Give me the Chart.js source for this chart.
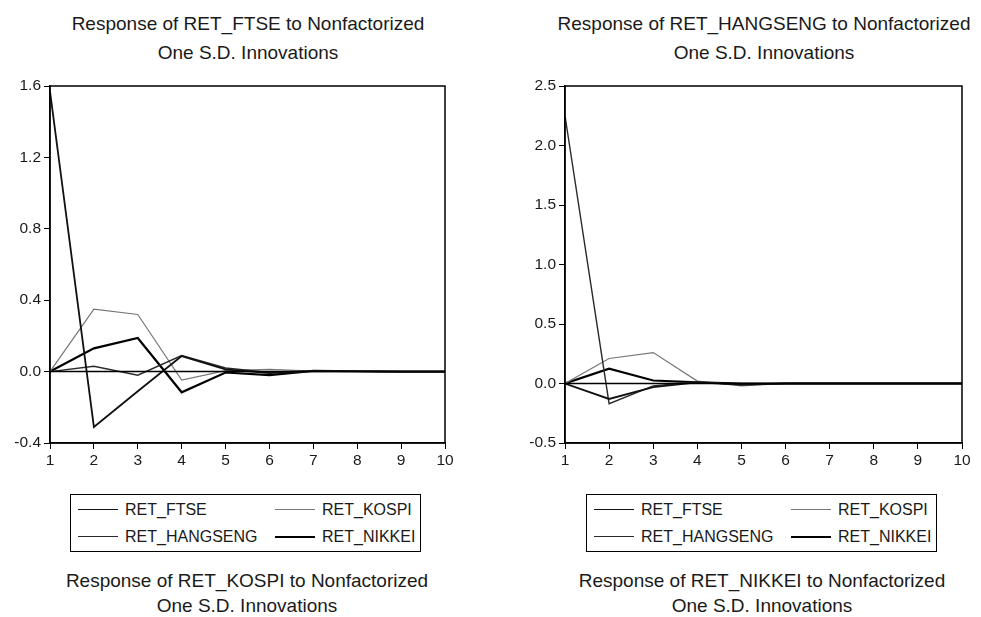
<!DOCTYPE html>
<html>
<head>
<meta charset="utf-8">
<script src="https://cdn.jsdelivr.net/npm/chart.js@4.4.1/dist/chart.umd.min.js"></script>
<style>
  body { margin: 0; background: #fff; width: 981px; height: 617px; overflow: hidden; position: relative; font-family: "Liberation Sans", Arial, sans-serif; color: #1a1a1a; }
  .title { position: absolute; width: 480px; text-align: center; font-size: 19px; white-space: nowrap; }
  .panel { position: absolute; top: 70px; height: 400px; }
  .legend { position: absolute; top: 494px; width: 351px; height: 58px; border: 1.5px solid #000; display: grid; grid-template-columns: 197px auto; align-content: center; padding-left: 7px; box-sizing: border-box; font-size: 16px; }
  .legend .item { display: flex; align-items: center; height: 27px; white-space: nowrap; }
  .legend .swatch { width: 40px; margin-right: 7px; }
</style>
</head>
<body>
<div class="title" style="left:8px; top:9px; line-height:29px;">Response of RET_FTSE to Nonfactorized<br>One S.D. Innovations</div>
<div class="title" style="left:524px; top:9px; line-height:29px;">Response of RET_HANGSENG to Nonfactorized<br>One S.D. Innovations</div>

<div class="panel" style="left:0; width:480px;"><canvas id="chartFtse"></canvas></div>
<div class="panel" style="left:515px; width:466px;"><canvas id="chartHangseng"></canvas></div>

<div class="legend" id="legendFtse" style="left:70px;"></div>
<div class="legend" id="legendHangseng" style="left:586px;"></div>

<div class="title" style="left:7px; top:568px; line-height:25px;">Response of RET_KOSPI to Nonfactorized<br>One S.D. Innovations</div>
<div class="title" style="left:522px; top:568px; line-height:25px;">Response of RET_NIKKEI to Nonfactorized<br>One S.D. Innovations</div>

<script>
// Periodos do impulso-resposta
const periods = [1, 2, 3, 4, 5, 6, 7, 8, 9, 10];
const seriesNames = ['RET_FTSE', 'RET_HANGSENG', 'RET_KOSPI', 'RET_NIKKEI'];

// Response of RET_FTSE
const ftseToFtse      = [1.57, -0.31, -0.11, 0.087, 0.012, -0.008, 0.004, 0.001, 0, 0];
const ftseToHangseng  = [0, 0.03, -0.02, 0.09, 0.02, -0.005, 0.002, 0.001, 0, 0];
const ftseToKospi     = [0, 0.35, 0.32, -0.047, 0.005, 0.012, 0.003, 0.002, 0, 0];
const ftseToNikkei    = [0, 0.13, 0.188, -0.116, -0.005, -0.02, 0.004, 0.002, 0, 0];

// Response of RET_HANGSENG
const hsToFtse        = [0, -0.13, -0.03, 0.01, -0.01, 0, 0, 0, 0, 0];
const hsToHangseng    = [2.25, -0.17, -0.02, 0.015, -0.01, 0, 0, 0, 0, 0];
const hsToKospi       = [0, 0.21, 0.26, 0.02, -0.02, 0, 0, 0, 0, 0];
const hsToNikkei      = [0, 0.125, 0.025, 0.01, 0, 0, 0, 0, 0, 0];

// y axis ticks
const ftseTicks = { min: -0.4, max: 1.6, step: 0.4 };
const hsTicks = { min: -0.5, max: 2.5, step: 0.5 };

// line styles (same order as seriesNames)
const lineColors = ['#111', '#2a2a2a', '#777', '#000'];
const lineWidths = [1.8, 1.4, 1.2, 2.2];

// moldura do grafico e linha do zero
const framePlugin = {
  id: 'frame',
  afterDatasetsDraw(chart) {
    const { ctx, chartArea: a } = chart;
    const y0 = chart.scales.y.getPixelForValue(0);
    ctx.save();
    ctx.strokeStyle = '#000';
    ctx.lineWidth = 1.5;
    ctx.beginPath();
    ctx.moveTo(a.left, y0);
    ctx.lineTo(a.right, y0);
    ctx.stroke();
    ctx.strokeRect(a.left, a.top, a.right - a.left, a.bottom - a.top);
    ctx.restore();
  }
};

function buildChart(canvasId, seriesData, ticks, padRight) {
  const ctx = document.getElementById(canvasId).getContext('2d');
  return new Chart(ctx, {
    type: 'line',
    data: {
      datasets: seriesData.map((values, i) => ({
        label: seriesNames[i],
        data: periods.map((p, j) => ({ x: p, y: values[j] })),
        borderColor: lineColors[i],
        borderWidth: lineWidths[i],
        pointRadius: 0,
        tension: 0,
        fill: false
      }))
    },
    options: {
      responsive: true,
      maintainAspectRatio: false,
      animation: false,
      layout: { padding: { top: 16, right: padRight, left: 0, bottom: 0 } },
      plugins: { legend: { display: false }, title: { display: false }, tooltip: { enabled: false } },
      scales: {
        x: {
          type: 'linear',
          min: 1,
          max: 10,
          afterFit: s => { s.height = 27; },
          grid: { drawOnChartArea: false, drawTicks: true, tickLength: 6, color: '#000' },
          border: { display: true, color: '#000', width: 1.5 },
          ticks: { stepSize: 1, padding: 2, color: '#1a1a1a', font: { family: 'Liberation Sans', size: 15.5 } }
        },
        y: {
          min: ticks.min,
          max: ticks.max,
          afterFit: s => { s.width = 50; },
          grid: { drawOnChartArea: false, drawTicks: true, tickLength: 6, color: '#000' },
          border: { display: true, color: '#000', width: 1.5 },
          ticks: {
            stepSize: ticks.step,
            padding: 3,
            color: '#1a1a1a',
            font: { family: 'Liberation Sans', size: 15.5 },
            callback: v => Number(v).toFixed(1)
          }
        }
      }
    },
    plugins: [framePlugin]
  });
}

// legenda em html, duas colunas como no original
function buildLegend(id) {
  const box = document.getElementById(id);
  const order = [0, 2, 1, 3]; // FTSE, KOSPI / HANGSENG, NIKKEI
  order.forEach(i => {
    const item = document.createElement('div');
    item.className = 'item';
    const sw = document.createElement('span');
    sw.className = 'swatch';
    sw.style.borderTop = lineWidths[i] + 'px solid ' + lineColors[i];
    const txt = document.createElement('span');
    txt.textContent = seriesNames[i];
    item.appendChild(sw);
    item.appendChild(txt);
    box.appendChild(item);
  });
}

document.addEventListener('DOMContentLoaded', () => {
  buildChart('chartFtse', [ftseToFtse, ftseToHangseng, ftseToKospi, ftseToNikkei], ftseTicks, 35);
  buildChart('chartHangseng', [hsToFtse, hsToHangseng, hsToKospi, hsToNikkei], hsTicks, 19);
  buildLegend('legendFtse');
  buildLegend('legendHangseng');
});
</script>
</body>
</html>
